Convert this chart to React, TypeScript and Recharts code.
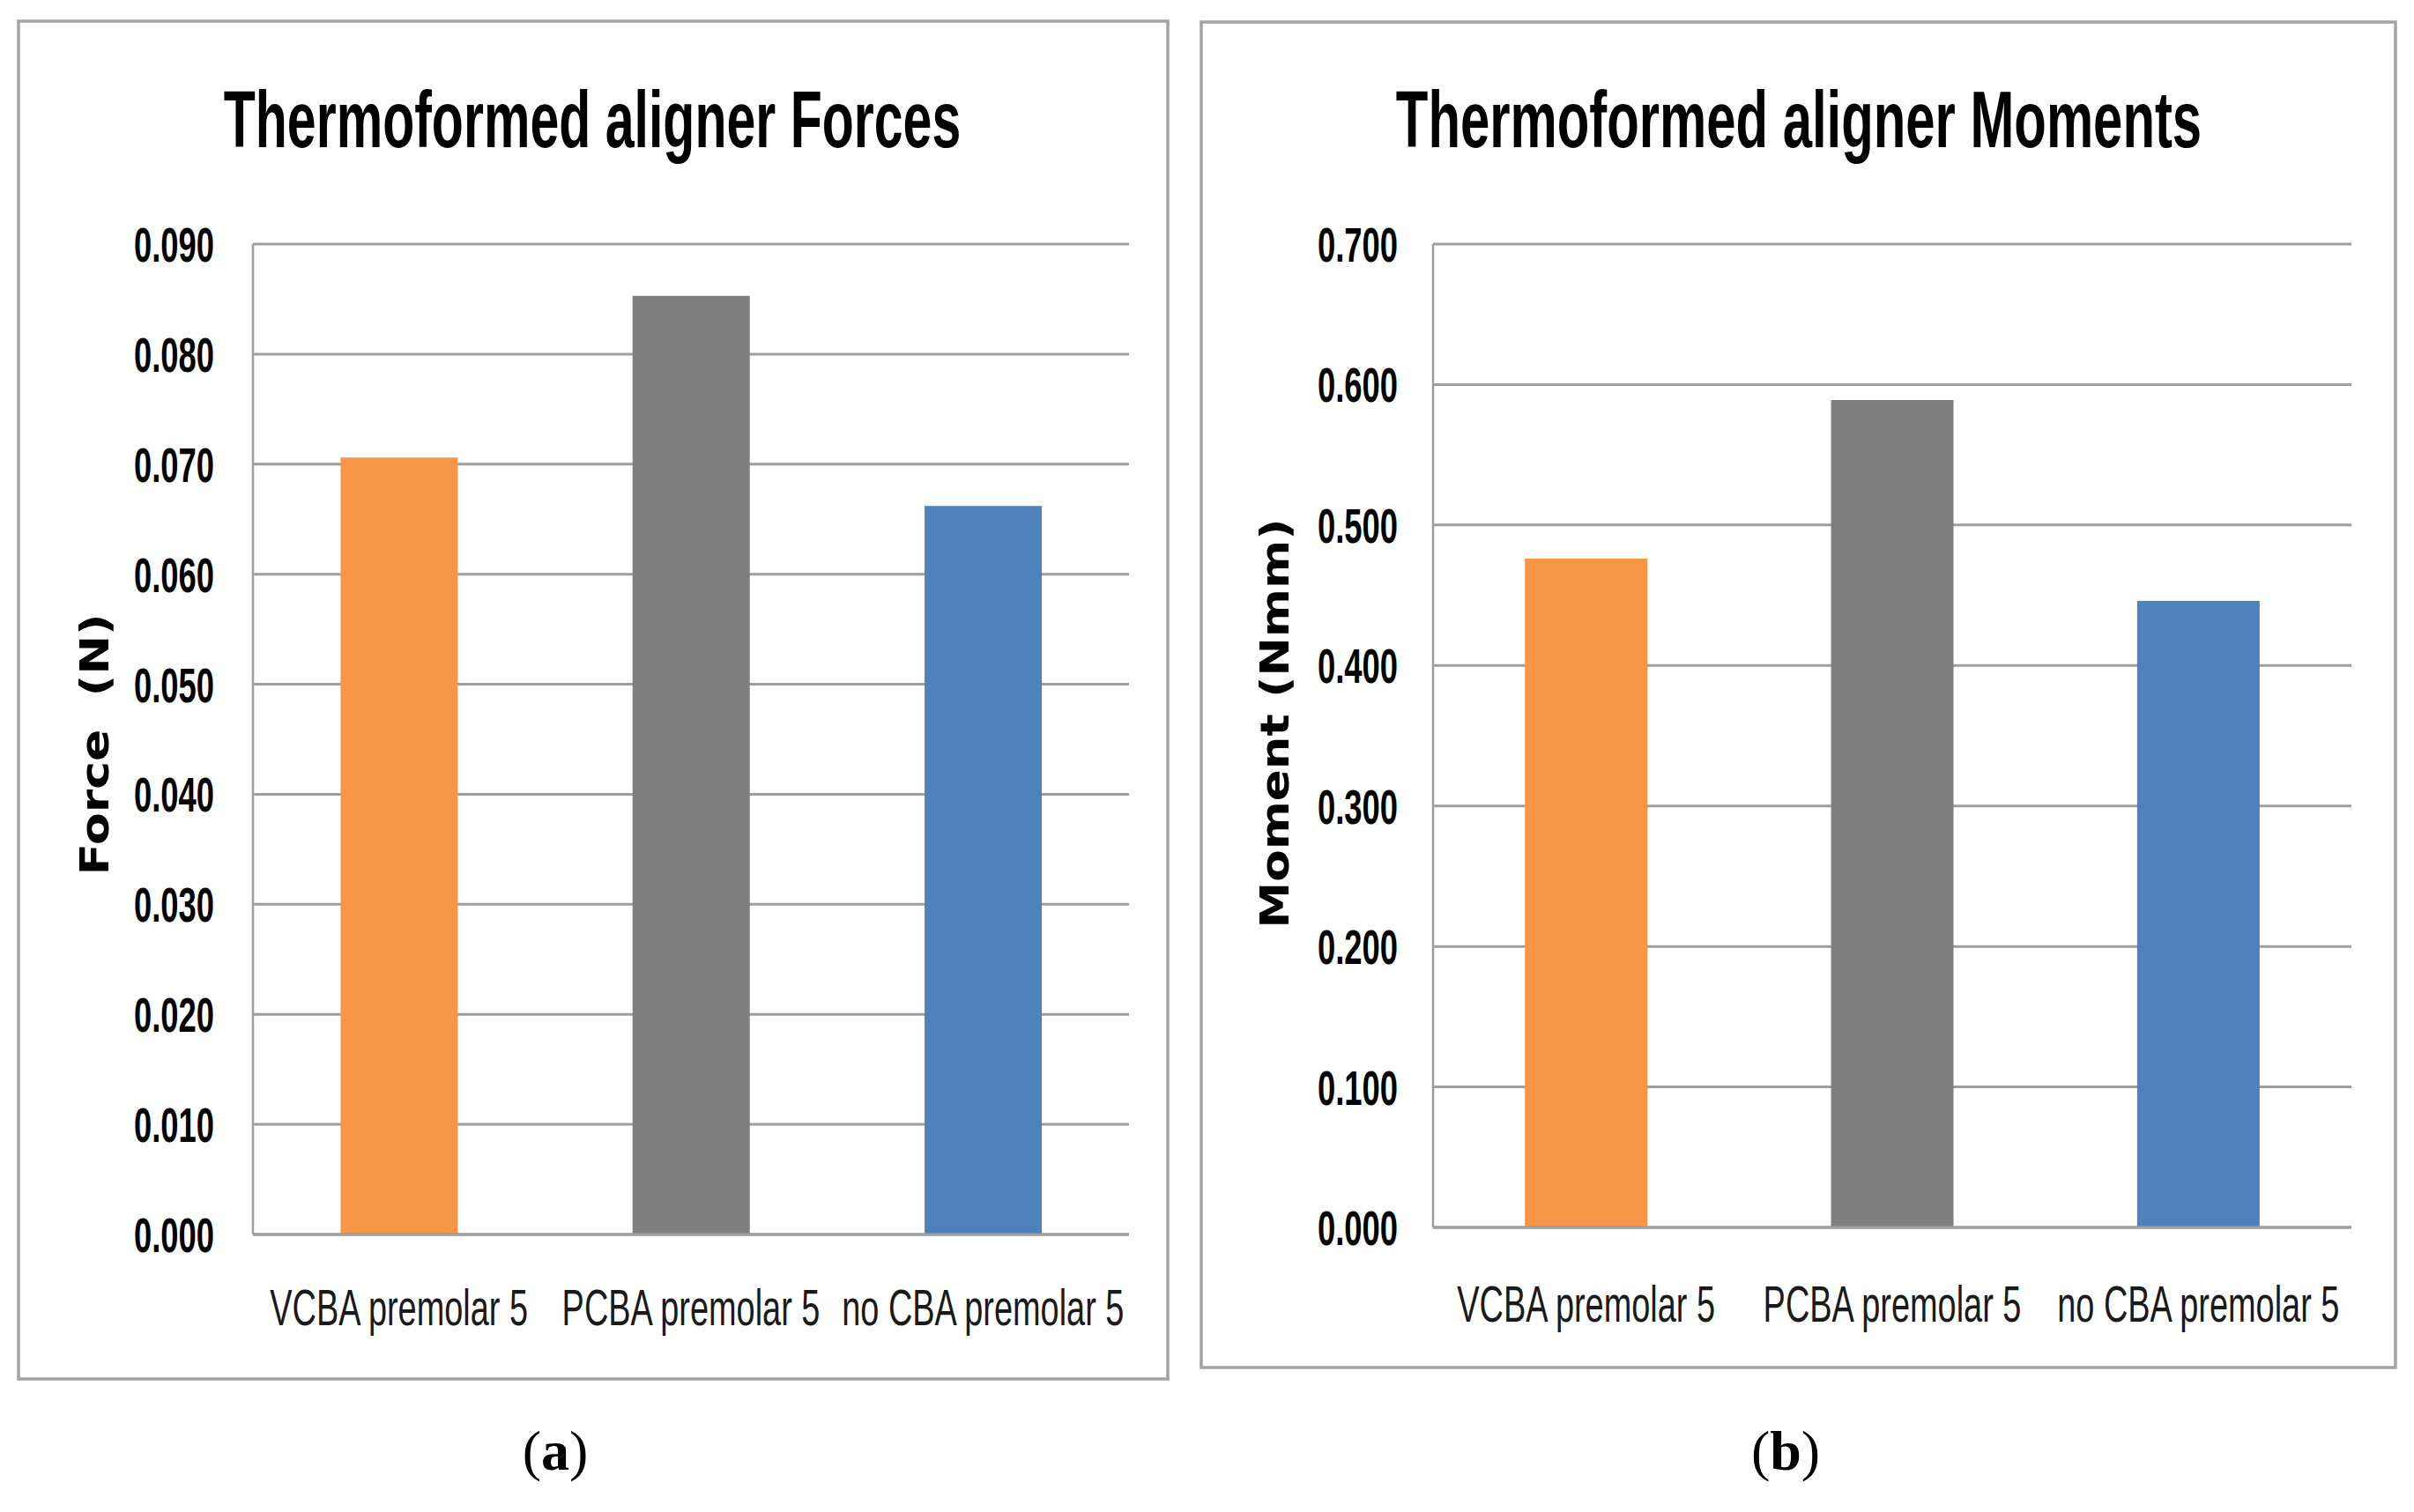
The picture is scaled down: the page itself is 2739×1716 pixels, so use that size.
import React from 'react';
import { BarChart, Bar, XAxis, YAxis, CartesianGrid, Cell } from 'recharts';

// values
const categories = ['VCBA premolar 5', 'PCBA premolar 5', 'no CBA premolar 5'];
const forceValues = [0.0706, 0.0853, 0.0662];
const momentValues = [0.476, 0.589, 0.446];
const forceTicks = [0, 0.01, 0.02, 0.03, 0.04, 0.05, 0.06, 0.07, 0.08, 0.09];
const momentTicks = [0, 0.1, 0.2, 0.3, 0.4, 0.5, 0.6, 0.7];
const barColors = ['#F79646', '#7F7F7F', '#4F81BD'];

const forceData = categories.map((name, i) => ({ name, value: forceValues[i] }));
const momentData = categories.map((name, i) => ({ name, value: momentValues[i] }));

const SANS = '"Liberation Sans", Arial, sans-serif';
const GRID = '#9e9e9e';

// the source image is squeezed horizontally, so text is scaled on x
const YTick = (props: any) => {
  const { x, y, payload } = props;
  return (
    <g transform={`translate(${x},${y + 20})`}>
      <text transform="scale(0.65,1)" textAnchor="end" fontFamily={SANS} fontWeight="bold" fontSize={56} fill="#000">
        {Number(payload.value).toFixed(3)}
      </text>
    </g>
  );
};

const makeXTick = (offset: number) => (props: any) => {
  const { x, y, payload } = props;
  return (
    <g transform={`translate(${x},${y + offset})`}>
      <text transform="scale(0.665,1)" textAnchor="middle" fontFamily={SANS} fontSize={57} fill="#1a1a1a">
        {payload.value}
      </text>
    </g>
  );
};

interface PanelProps {
  data: { name: string; value: number }[];
  ticks: number[];
  max: number;
  left: number;
  margin: { top: number; right: number; bottom: number; left: number };
  tickMargin: number;
  labelOffset: number;
}

const Panel: React.FC<PanelProps> = ({ data, ticks, max, left, margin, tickMargin, labelOffset }) => (
  <div style={{ position: 'absolute', left, top: 0 }}>
    <BarChart width={1369} height={1716} data={data} margin={margin} barCategoryGap="30%">
      <CartesianGrid vertical={false} stroke={GRID} strokeWidth={3} />
      <XAxis
        dataKey="name"
        height={130}
        tickLine={false}
        tickSize={0}
        tickMargin={0}
        axisLine={{ stroke: GRID, strokeWidth: 3 }}
        tick={makeXTick(labelOffset)}
        interval={0}
      />
      <YAxis
        width={100}
        domain={[0, max]}
        ticks={ticks}
        tickLine={false}
        tickSize={0}
        tickMargin={tickMargin}
        axisLine={{ stroke: GRID, strokeWidth: 2.5 }}
        tick={<YTick />}
        interval={0}
      />
      <Bar dataKey="value" isAnimationActive={false}>
        {data.map((d, i) => (
          <Cell key={d.name} fill={barColors[i]} />
        ))}
      </Bar>
    </BarChart>
  </div>
);

const Title = ({ x, sx, children }: { x: number; sx: number; children: string }) => (
  <g transform={`translate(${x},167) scale(${sx},1)`}>
    <text textAnchor="middle" fontFamily={SANS} fontWeight="bold" fontSize={90} fill="#000">{children}</text>
  </g>
);

const App: React.FC = () => {
  return (
    <div style={{ position: 'absolute', left: 0, top: 0, width: 2739, height: 1716, background: '#fff' }}>
      <svg width={2739} height={1716} style={{ position: 'absolute', left: 0, top: 0 }}>
        <rect x={21} y={24} width={1304} height={1541} fill="none" stroke="#a3a3a3" strokeWidth={3.5} />
        <rect x={1363} y={25} width={1355} height={1527} fill="none" stroke="#a3a3a3" strokeWidth={3.5} />

        <Title x={672} sx={0.656}>Thermoformed aligner Forces</Title>
        <Title x={2041} sx={0.665}>Thermoformed aligner Moments</Title>

        <text transform="translate(123,845) rotate(-90)" textAnchor="middle" fontFamily='"DejaVu Sans", sans-serif'
          fontWeight="bold" fontSize={44} textLength={297} lengthAdjust="spacingAndGlyphs"
          style={{ whiteSpace: 'pre' }}>{'Force  (N)'}</text>
        <text transform="translate(1462,821) rotate(-90)" textAnchor="middle" fontFamily='"DejaVu Sans", sans-serif'
          fontWeight="bold" fontSize={44} textLength={465} lengthAdjust="spacingAndGlyphs">Moment (Nmm)</text>

        <text x={630} y={1668} textAnchor="middle" fontFamily='"Liberation Serif", serif' fontSize={64}>
          (<tspan fontWeight="bold">a</tspan>)
        </text>
        <text x={2026} y={1668} textAnchor="middle" fontFamily='"Liberation Serif", serif' fontSize={64}>
          (<tspan fontWeight="bold">b</tspan>)
        </text>
      </svg>

      <Panel
        data={forceData}
        ticks={forceTicks}
        max={0.09}
        left={0}
        margin={{ top: 277, right: 88, bottom: 185, left: 187 }}
        tickMargin={44}
        labelOffset={103}
      />
      <Panel
        data={momentData}
        ticks={momentTicks}
        max={0.7}
        left={1370}
        margin={{ top: 277, right: 71, bottom: 193, left: 156 }}
        tickMargin={40}
        labelOffset={107}
      />
    </div>
  );
};

export default App;
